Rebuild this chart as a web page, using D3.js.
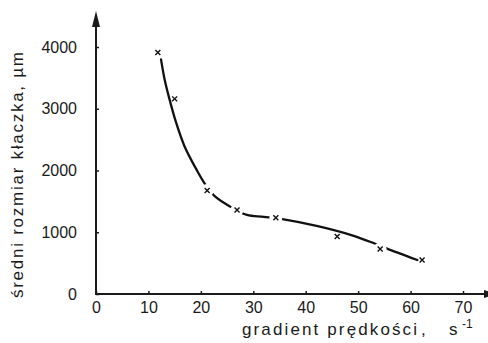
<!DOCTYPE html>
<html>
<head>
<meta charset="utf-8">
<script src="https://cdn.jsdelivr.net/npm/d3@7"></script>
<style>
  body { margin: 0; background: #fff; }
  text { font-family: "Liberation Sans", Arial, sans-serif; fill: #1a1a1a; }
</style>
</head>
<body>
<div id="chart"></div>
<script>
// tick labels
var xTicks = [0, 10, 20, 30, 40, 50, 60, 70];
var yTicks = [0, 1000, 2000, 3000, 4000];

// measured points: velocity gradient (1/s) vs mean floc size (um)
var gradient = [11.8, 15.0, 21.2, 26.9, 34.3, 46.0, 54.2, 62.2];
var flocSize = [3910, 3160, 1675, 1360, 1235, 930, 730, 550];

// the hand drawn curve through them
var curveX = [12.4, 13.1, 14.0, 15.3, 16.9, 19.2, 20.8, 22.7, 25.6, 28.8, 32.0, 35.8, 42.3, 48.7, 52.8, 55.4, 61.3];
var curveY = [3800, 3470, 3160, 2770, 2390, 2010, 1780, 1580, 1415, 1280, 1250, 1210, 1100, 955, 830, 740, 550];

// points where the pen left a gap in the curve
var gapIdx = [2, 3, 4, 6];

var width = 488, height = 343;

var svg = d3.select("#chart")
  .append("svg")
    .attr("width", width)
    .attr("height", height);

var x = d3.scaleLinear().domain([0, 70]).range([96, 463]);
var y = d3.scaleLinear().domain([0, 4000]).range([294, 47]);

// Y axis
var yAxis = svg.append("g")
  .attr("transform", "translate(" + x(0) + ",0)")
  .call(d3.axisLeft(y)
    .tickValues(yTicks)
    .tickSize(-3)
    .tickSizeOuter(0)
    .tickPadding(19)
    .tickFormat(d3.format("d")));
yAxis.select(".domain").remove();
yAxis.selectAll("line").attr("stroke", "#1a1a1a").attr("stroke-width", 1.5);
yAxis.selectAll("text").style("font-size", "16px").attr("fill", "#1a1a1a");

// X axis
var xAxis = svg.append("g")
  .attr("transform", "translate(0," + y(0) + ")")
  .call(d3.axisBottom(x)
    .tickValues(xTicks)
    .tickSize(-3)
    .tickSizeOuter(0)
    .tickPadding(8)
    .tickFormat(d3.format("d")));
xAxis.select(".domain").remove();
xAxis.selectAll("line").attr("stroke", "#1a1a1a").attr("stroke-width", 1.5);
xAxis.selectAll("text").style("font-size", "16px").attr("fill", "#1a1a1a");

// axis lines with arrows
svg.append("line")
  .attr("x1", x(0)).attr("y1", y(0))
  .attr("x2", x(0)).attr("y2", 24)
  .attr("stroke", "#1a1a1a").attr("stroke-width", 2);
svg.append("path")
  .attr("d", "M" + (x(0) - 4) + ",27 L" + x(0) + ",11 L" + (x(0) + 4) + ",27 Z")
  .attr("fill", "#1a1a1a");

svg.append("line")
  .attr("x1", x(0) - 1).attr("y1", y(0))
  .attr("x2", width).attr("y2", y(0))
  .attr("stroke", "#1a1a1a").attr("stroke-width", 2);
svg.append("path")
  .attr("d", "M484," + (y(0) - 4) + " L496," + y(0) + " L484," + (y(0) + 4) + " Z")
  .attr("fill", "#1a1a1a");

// curve
var curveData = curveX.map(function(d, i) { return [d, curveY[i]]; });
svg.append("path")
  .datum(curveData)
  .attr("fill", "none")
  .attr("stroke", "#111")
  .attr("stroke-width", 2.3)
  .attr("stroke-linecap", "round")
  .attr("d", d3.line()
    .x(function(d) { return x(d[0]); })
    .y(function(d) { return y(d[1]); })
    .curve(d3.curveCatmullRom));

// gaps around markers
svg.selectAll(".gap")
  .data(gapIdx)
  .enter().append("circle")
    .attr("cx", function(i) { return x(gradient[i]); })
    .attr("cy", function(i) { return y(flocSize[i]); })
    .attr("r", 6.5)
    .attr("fill", "#fff");

// markers
svg.selectAll(".pt")
  .data(gradient)
  .enter().append("path")
    .attr("transform", function(d, i) { return "translate(" + x(d) + "," + y(flocSize[i]) + ")"; })
    .attr("d", d3.symbol().type(d3.symbolTimes).size(18))
    .attr("fill", "none")
    .attr("stroke", "#111")
    .attr("stroke-width", 1.4);

// X axis label
var xl = svg.append("text")
  .attr("y", 335)
  .style("font-size", "17px");
xl.append("tspan").attr("x", 242).attr("textLength", 175).attr("lengthAdjust", "spacing").text("gradient  prędkości");
xl.append("tspan").attr("x", 421).text(",");
xl.append("tspan").attr("x", 449).text("s");
xl.append("tspan").attr("x", 462).attr("dy", -7).style("font-size", "12px").text("-1");

// Y axis label
svg.append("text")
  .attr("transform", "translate(23,298) rotate(-90)")
  .attr("textLength", 246)
  .attr("lengthAdjust", "spacing")
  .style("font-size", "17px")
  .text("średni  rozmiar  kłaczka, µm");
</script>
</body>
</html>
